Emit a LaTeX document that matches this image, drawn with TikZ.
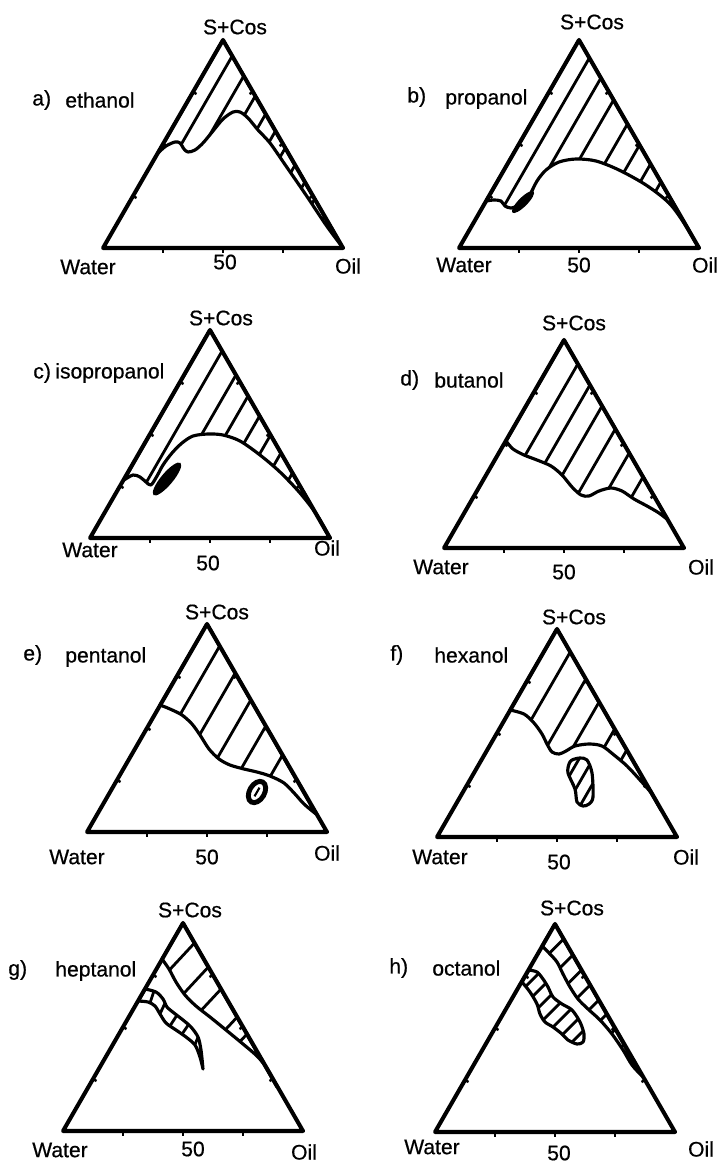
\documentclass[tikz,border=0pt]{standalone}
\usepackage{fontspec}
\setmainfont{Liberation Sans}[FakeBold=0.6]

\begin{document}
\begin{tikzpicture}[
  x=0.02cm, y=-0.02cm,
  triedge/.style={line width=2.3pt, line join=round},
  tickmark/.style={line width=1.4pt},
  bnd/.style={line width=1.8pt, line cap=round, line join=round},
  hatch/.style={line width=1.6pt},
  lbl/.style={font=\fontsize{12}{14}\selectfont, inner sep=0pt},
  tern/.pic={
    \draw[triedge] (0,0) -- (240,0) -- (120,-208) -- cycle;
    \foreach \p in {0.25,0.5,0.75} {
      \draw[tickmark] ({240*\p},0) -- ++(0,5);
      \draw[tickmark] ({120*\p},{-208*\p}) -- ++(3.5,2);
      \draw[tickmark] ({240-120*\p},{-208*\p}) -- ++(-3.5,2);
    }
  },
]
\path[use as bounding box, fill=white] (0,0) rectangle (723,1163);

%% a) ethanol
\begin{scope}[shift={(103,248)}]
  \pic {tern};
  \begin{scope}[bnd]
    \draw[clip] plot[smooth] coordinates {(55,-95) (63,-102) (72,-106) (77,-105) (81,-99) (85,-96) (92,-98) (100,-105) (110,-117) (120,-129) (130,-136) (137,-136) (145,-130) (155,-118) (167,-105) (183,-82) (203,-53) (223,-23) (240,0)} -- (120,-208) -- cycle;
    \foreach \h in {192,172,152,134,117,100,83,66,49,32}
      \draw[hatch] ({240-0.577*\h},{-\h}) -- ++(-150,260);
  \end{scope}
\end{scope}

%% b) propanol
\begin{scope}[shift={(459,248)}]
  \pic {tern};
  \begin{scope}[bnd]
    \draw[clip] plot[smooth] coordinates {(27,-47) (35,-48) (42,-47) (46,-42) (52,-40) (60,-43) (70,-52) (78,-67) (87,-78) (100,-86) (117,-89) (137,-87) (160,-78) (187,-63) (210,-45) (225,-25) (240,0)} -- (120,-208) -- cycle;
    \foreach \h in {190,170,148,124,103,84,66,48}
      \draw[hatch] ({240-0.577*\h},{-\h}) -- ++(-150,260);
  \end{scope}
  \fill[shift={(64,-46)}, rotate=45] (0,0) ellipse [x radius=15, y radius=4.5];
\end{scope}

%% c) isopropanol
\begin{scope}[shift={(90,538)}]
  \pic {tern};
  \begin{scope}[bnd]
    \draw[clip] plot[smooth] coordinates {(34,-58) (43,-63) (50,-61) (56,-56) (61,-53) (67,-62) (73,-73) (82,-85) (92,-95) (103,-102) (118,-104) (133,-103) (150,-97) (170,-83) (190,-66) (210,-45) (227,-23) (240,0)} -- (120,-208) -- cycle;
    \foreach \h in {187,163,142,122,103,85,65,45}
      \draw[hatch] ({240-0.577*\h},{-\h}) -- ++(-150,260);
  \end{scope}
  \fill[shift={(77,-59)}, rotate=50] (0,0) ellipse [x radius=21, y radius=6];
\end{scope}

%% d) butanol
\begin{scope}[shift={(444,548)}]
  \pic {tern};
  \begin{scope}[bnd]
    \draw[clip] plot[smooth] coordinates {(62,-107) (69,-99) (80,-93) (93,-88) (107,-82) (118,-73) (128,-61) (137,-53) (145,-52) (155,-57) (167,-60) (178,-57) (190,-49) (203,-42) (215,-35) (224,-28)} -- (120,-208) -- cycle;
    \foreach \h in {184,163,142,119,95,71}
      \draw[hatch] ({240-0.577*\h},{-\h}) -- ++(-150,260);
  \end{scope}
\end{scope}

%% e) pentanol
\begin{scope}[shift={(87,832)}]
  \pic {tern};
  \begin{scope}[bnd]
    \draw[clip] plot[smooth] coordinates {(73,-127) (83,-123) (95,-117) (105,-108) (113,-97) (122,-83) (132,-73) (143,-67) (157,-63) (170,-60) (183,-56) (197,-49) (208,-38) (217,-28) (229,-18)} -- (120,-208) -- cycle;
    \foreach \h in {186,159,132,106,77}
      \draw[hatch] ({240-0.577*\h},{-\h}) -- ++(-150,260);
  \end{scope}
  \begin{scope}[shift={(170,-40)}, rotate=60]
    \draw[line width=2.8pt] (0,0) ellipse [x radius=11.5, y radius=7.5];
    \draw[line width=1.2pt] (-5,0) -- (5,0);
  \end{scope}
\end{scope}

%% f) hexanol
\begin{scope}[shift={(437,837)}]
  \pic {tern};
  \begin{scope}[bnd]
    \draw[clip] plot[smooth] coordinates {(73,-127) (87,-123) (97,-114) (105,-103) (110,-93) (115,-85) (122,-83) (129,-86) (138,-91) (152,-93) (165,-91) (177,-82) (190,-71) (203,-57) (215,-43) (224,-27)} -- (120,-208) -- cycle;
    \foreach \h in {185,158,135,108,87}
      \draw[hatch] ({240-0.577*\h},{-\h}) -- ++(-150,260);
  \end{scope}
  \begin{scope}[bnd]
    \draw[clip] plot[smooth cycle] coordinates {(135,-77) (143,-79) (150,-77) (155,-64) (156,-40) (152,-33) (146,-31) (140,-35) (138,-48) (131,-64) (132,-73)};
    \foreach \o in {97,111,125}
      \draw[hatch] ({\o+0.577*20},-20) -- ({\o+0.577*95},-95);
  \end{scope}
\end{scope}

%% g) heptanol
\begin{scope}[shift={(63,1131)}]
  \pic {tern};
  \begin{scope}[bnd]
    \draw[clip] plot[smooth] coordinates {(99,-172) (106,-162) (113,-149) (122,-136) (133,-125) (147,-114) (163,-101) (180,-87) (195,-74) (205,-61) (214,-44)} -- (120,-208) -- cycle;
    \foreach \h in {188,164,142,114,97}
      \draw[hatch] ({240-0.577*\h},{-\h}) -- ++(-40,43);
  \end{scope}
  \begin{scope}[bnd]
    \draw[clip] plot[smooth] coordinates {(82,-142) (93,-139) (100,-132) (104,-124) (111,-118) (120,-111) (128,-104) (135,-94) (138,-81) (140,-62)}
      -- plot[smooth] coordinates {(140,-62) (137,-74) (132,-86) (123,-94) (113,-101) (103,-108) (97,-117) (92,-125) (85,-129) (75,-130)} -- cycle;
    \draw[hatch] (92,-143) -- (86,-125);
    \draw[hatch] (103.5,-131) -- (95.5,-114);
    \draw[hatch] (116,-119) -- (105,-102);
    \draw[hatch] (128,-110) -- (117,-94);
    \draw[hatch] (136,-96) -- (130,-82);
  \end{scope}
\end{scope}

%% h) octanol
\begin{scope}[shift={(435,1132)}]
  \pic {tern};
  \begin{scope}[bnd]
    \draw[clip] plot[smooth] coordinates {(107,-186) (114,-179) (122,-170) (128,-158) (135,-145) (143,-133) (153,-123) (165,-112) (177,-98) (188,-82) (197,-67) (207,-56)} -- (120,-208) -- cycle;
    \foreach \h in {193,177,162,147,132,118,103,88,75}
      \draw[hatch] ({240-0.577*\h},{-\h}) -- ++(-40,40);
  \end{scope}
  \begin{scope}[bnd]
    \draw[clip] plot[smooth] coordinates {(94,-162) (102,-160) (108,-153) (113,-145) (118,-135) (127,-128) (137,-122) (145,-110) (149,-98) (148,-90) (142,-88) (133,-92) (127,-98) (118,-105) (110,-110) (105,-118) (102,-128) (95,-140) (87,-150)} -- cycle;
    \foreach \c in {-55,-38,-21,-4,13,30,47}
      \draw[hatch] ({\c+170},-170) -- ({\c+80},-80);
  \end{scope}
\end{scope}

%% Labels
\node[lbl] (a-scos) at (235,27) {S+Cos};
\node[lbl] (a-water) at (88,267) {Water};
\node[lbl] (a-fifty) at (225,262) {50};
\node[lbl] (a-oil) at (348,266) {Oil};
\node[lbl, anchor=west] (a-tag) at (32,100) {a)};
\node[lbl, anchor=west] (a-name) at (65,100) {ethanol};

\node[lbl] (b-scos) at (592,22) {S+Cos};
\node[lbl] (b-water) at (464,265) {Water};
\node[lbl] (b-fifty) at (579,265) {50};
\node[lbl] (b-oil) at (705,265) {Oil};
\node[lbl, anchor=west] (b-tag) at (407,97) {b)};
\node[lbl, anchor=west] (b-name) at (445,99) {propanol};

\node[lbl] (c-scos) at (221,318) {S+Cos};
\node[lbl] (c-water) at (90,550) {Water};
\node[lbl] (c-fifty) at (208,563) {50};
\node[lbl] (c-oil) at (327,548) {Oil};
\node[lbl, anchor=west] (c-tag) at (33,373) {c)};
\node[lbl, anchor=west] (c-name) at (55,373) {isopropanol};

\node[lbl] (d-scos) at (574,323) {S+Cos};
\node[lbl] (d-water) at (441,567) {Water};
\node[lbl] (d-fifty) at (564,572) {50};
\node[lbl] (d-oil) at (701,567) {Oil};
\node[lbl, anchor=west] (d-tag) at (400,380) {d)};
\node[lbl, anchor=west] (d-name) at (434,380) {butanol};

\node[lbl] (e-scos) at (217,612) {S+Cos};
\node[lbl] (e-water) at (77,857) {Water};
\node[lbl] (e-fifty) at (207,857) {50};
\node[lbl] (e-oil) at (327,853) {Oil};
\node[lbl, anchor=west] (e-tag) at (23,655) {e)};
\node[lbl, anchor=west] (e-name) at (65,657) {pentanol};

\node[lbl] (f-scos) at (574,617) {S+Cos};
\node[lbl] (f-water) at (440,857) {Water};
\node[lbl] (f-fifty) at (559,862) {50};
\node[lbl] (f-oil) at (686,857) {Oil};
\node[lbl, anchor=west] (f-tag) at (390,655) {f)};
\node[lbl, anchor=west] (f-name) at (434,655) {hexanol};

\node[lbl] (g-scos) at (190,910) {S+Cos};
\node[lbl] (g-water) at (60,1150) {Water};
\node[lbl] (g-fifty) at (193,1149) {50};
\node[lbl] (g-oil) at (304,1152) {Oil};
\node[lbl, anchor=west] (g-tag) at (8,970) {g)};
\node[lbl, anchor=west] (g-name) at (55,971) {heptanol};

\node[lbl] (h-scos) at (572,908) {S+Cos};
\node[lbl] (h-water) at (432,1147) {Water};
\node[lbl] (h-fifty) at (559,1153) {50};
\node[lbl] (h-oil) at (701,1149) {Oil};
\node[lbl, anchor=west] (h-tag) at (389,968) {h)};
\node[lbl, anchor=west] (h-name) at (432,968) {octanol};
\end{tikzpicture}
\end{document}
